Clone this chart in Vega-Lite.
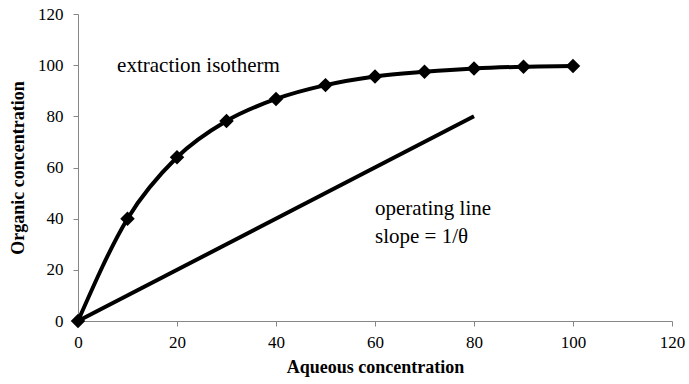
{
  "$schema": "https://vega.github.io/schema/vega-lite/v6.json",
  "autosize": "none",
  "width": 594,
  "height": 307,
  "padding": {"left": 78, "top": 14, "right": 17, "bottom": 63},
  "background": "white",
  "config": {
    "view": {"stroke": null}
  },
  "datasets": {
    "isotherm": [
      {"aq": 0, "org": 0},
      {"aq": 10, "org": 40},
      {"aq": 20, "org": 64},
      {"aq": 30, "org": 78.2},
      {"aq": 40, "org": 86.8},
      {"aq": 50, "org": 92.2},
      {"aq": 60, "org": 95.6},
      {"aq": 70, "org": 97.4},
      {"aq": 80, "org": 98.7},
      {"aq": 90, "org": 99.4},
      {"aq": 100, "org": 99.7}
    ],
    "operating": [
      {"aq": 0, "org": 0},
      {"aq": 80, "org": 80}
    ],
    "labels": [
      {"aq": 7.9, "org": 97.4, "text": "extraction isotherm"},
      {"aq": 60, "org": 41.4, "text": "operating line"},
      {"aq": 60, "org": 30.4, "text": "slope = 1/θ"}
    ]
  },
  "encoding": {
    "x": {
      "field": "aq", "type": "quantitative",
      "scale": {"domain": [0, 120], "nice": false, "zero": true},
      "axis": {
        "values": [0, 20, 40, 60, 80, 100, 120], "title": "Aqueous concentration",
        "grid": false, "domainColor": "#868686", "tickColor": "#868686", "tickSize": 5,
        "labelFont": "Liberation Serif", "labelFontSize": 17, "labelColor": "black", "labelPadding": 8,
        "labelFlush": false, "labelOverlap": false,
        "titleFont": "Liberation Serif", "titleFontSize": 18, "titleFontWeight": "bold", "titleColor": "black", "titlePadding": 8
      }
    },
    "y": {
      "field": "org", "type": "quantitative",
      "scale": {"domain": [0, 120], "nice": false},
      "axis": {
        "values": [0, 20, 40, 60, 80, 100, 120], "title": "Organic concentration",
        "grid": false, "domainColor": "#868686", "tickColor": "#868686", "tickSize": 5,
        "labelFont": "Liberation Serif", "labelFontSize": 17, "labelColor": "black", "labelPadding": 10,
        "labelFlush": false, "labelOverlap": false,
        "titleFont": "Liberation Serif", "titleFontSize": 18, "titleFontWeight": "bold", "titleColor": "black", "titlePadding": 10
      }
    }
  },
  "layer": [
    {
      "data": {"name": "operating"},
      "mark": {"type": "line", "color": "black", "strokeWidth": 4, "strokeCap": "butt"}
    },
    {
      "data": {"name": "isotherm"},
      "mark": {"type": "line", "color": "black", "strokeWidth": 4, "interpolate": "monotone"}
    },
    {
      "data": {"name": "isotherm"},
      "mark": {"type": "point", "shape": "diamond", "filled": true, "color": "black", "opacity": 1, "size": 210}
    },
    {
      "data": {"name": "labels"},
      "mark": {"type": "text", "align": "left", "baseline": "alphabetic", "fontSize": 21, "font": "Liberation Serif", "color": "black"},
      "encoding": {"text": {"field": "text"}}
    }
  ]
}
